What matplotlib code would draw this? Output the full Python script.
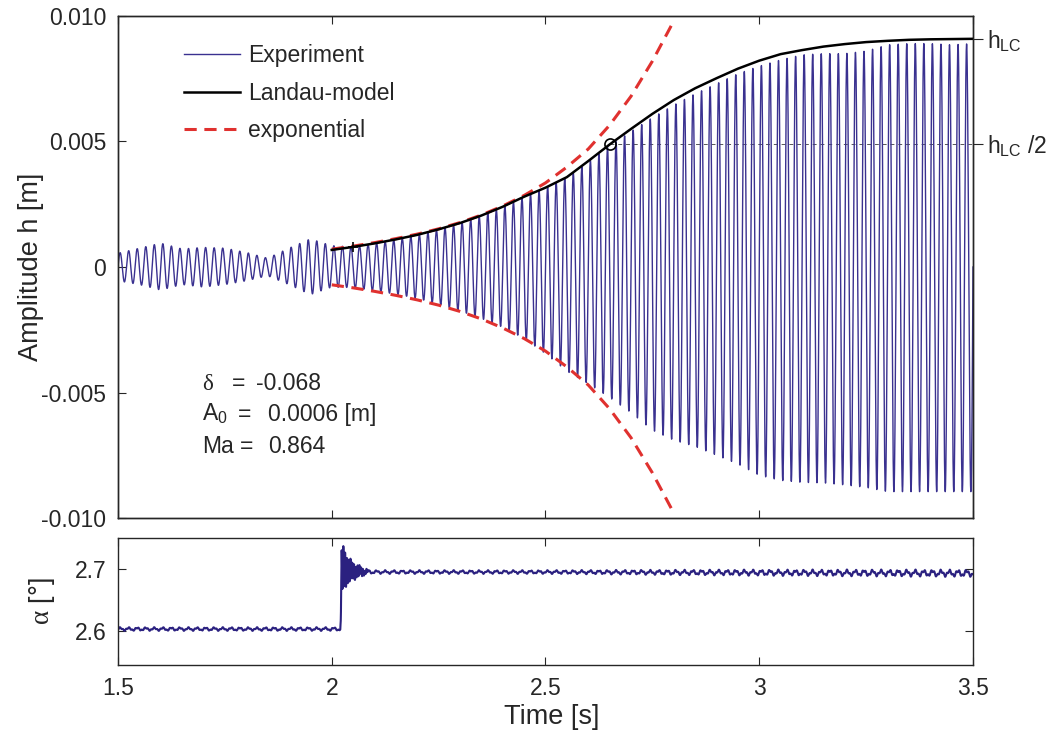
import numpy as np
import matplotlib as mpl
mpl.use("Agg")
import matplotlib.pyplot as plt

# ---- palette / style (MATLAB-like) ----
INK, SIG, ALC, RED, REFL = "#262626", "#3a3190", "#2b2180", "#e0312f", "#555555"
FS, FL = 16.5, 19.5                # tick/text size, axis-label size

mpl.rcParams.update({
    "font.family": ["Liberation Sans", "DejaVu Sans"], "font.size": FS,
    "mathtext.fontset": "custom", "mathtext.rm": "Liberation Sans",
    "mathtext.it": "Liberation Serif",
    "axes.edgecolor": INK, "axes.linewidth": 1.0, "text.color": INK,
    "axes.labelcolor": INK, "xtick.color": INK, "ytick.color": INK,
    "axes.labelsize": FL,
    "xtick.direction": "in", "ytick.direction": "in",
    "xtick.major.size": 6, "ytick.major.size": 6,
    "xtick.major.width": 0.8, "ytick.major.width": 0.8,
})

# ---- data ----
F_OSC = 50.0                       # oscillation frequency of h [Hz]
ENV_T = [1.50, 1.55, 1.60, 1.65, 1.70, 1.75, 1.80, 1.85, 1.90, 1.95,
         2.00, 2.05, 2.10, 2.15, 2.20, 2.25, 2.30, 2.35, 2.40, 2.45,
         2.50, 2.55, 2.60, 2.65, 2.70, 2.75, 2.80, 2.85, 2.90, 2.95,
         3.00, 3.05, 3.10, 3.15, 3.20, 3.25, 3.30, 3.35, 3.40, 3.45, 3.50]
ENV_UP = [0.00055, 0.00075, 0.00095, 0.00072, 0.00078, 0.00075, 0.00058, 0.00035, 0.00075, 0.00112,
          0.00085, 0.00080, 0.00093, 0.00108, 0.00126, 0.00148, 0.00173, 0.00203, 0.00238, 0.00278,
          0.00314, 0.00356, 0.00418, 0.00482, 0.00540, 0.00595, 0.00645, 0.00690, 0.00730, 0.00770,
          0.00800, 0.00825, 0.00845, 0.00850, 0.00850, 0.00860, 0.00885, 0.00890, 0.00890, 0.00885, 0.00890]
ENV_LO = [-0.00055, -0.00070, -0.00092, -0.00070, -0.00080, -0.00070, -0.00055, -0.00035, -0.00070, -0.00110,
          -0.00080, -0.00082, -0.00095, -0.00108, -0.00125, -0.00148, -0.00175, -0.00205, -0.00240, -0.00285,
          -0.00345, -0.00415, -0.00465, -0.00520, -0.00580, -0.00650, -0.00690, -0.00715, -0.00750, -0.00785,
          -0.00830, -0.00850, -0.00858, -0.00860, -0.00868, -0.00878, -0.00895, -0.00895, -0.00895, -0.00895, -0.00895]

LANDAU_T = [2.00, 2.05, 2.10, 2.15, 2.20, 2.25, 2.30, 2.35, 2.40, 2.45, 2.50,
            2.55, 2.60, 2.65, 2.70, 2.75, 2.80, 2.85, 2.90, 2.95, 3.00,
            3.05, 3.10, 3.15, 3.20, 3.25, 3.30, 3.35, 3.40, 3.45, 3.50]
LANDAU_H = [0.00068, 0.00080, 0.00094, 0.00110, 0.00128, 0.00150, 0.00175, 0.00205, 0.00240, 0.00280, 0.00316,
            0.00358, 0.00422, 0.00488, 0.00550, 0.00610, 0.00665, 0.00712, 0.00752, 0.00790, 0.00822,
            0.00848, 0.00864, 0.00878, 0.00888, 0.00896, 0.00901, 0.00905, 0.00907, 0.00908, 0.00909]

EXP_T = [2.00, 2.05, 2.10, 2.15, 2.20, 2.25, 2.30, 2.35, 2.40,
         2.45, 2.50, 2.55, 2.60, 2.65, 2.70, 2.75, 2.80]
EXP_H = [0.00071, 0.00083, 0.00097, 0.00113, 0.00131, 0.00152, 0.00177, 0.00207, 0.00243,
         0.00285, 0.00335, 0.00398, 0.00470, 0.00565, 0.00680, 0.00820, 0.00980]

MARK_T = [2.05, 2.65]              # "+" start point and "o" half-amplitude point
MARK_H = [0.00080, 0.00488]
H_LC, H_HALF = 0.0091, 0.0049      # right-hand tick positions

ALPHA_T = [1.50, 2.020, 2.024, 2.030, 2.040, 2.060, 2.100, 2.500, 3.000, 3.500]
ALPHA_LEVEL = [2.603, 2.603, 2.705, 2.700, 2.697, 2.696, 2.695, 2.695, 2.694, 2.693]
ALPHA_RIPPLE = [0.003, 0.003, 0.004, 0.004, 0.004, 0.004, 0.003, 0.003, 0.005, 0.006]
ALPHA_FREQS = [50.0, 137.0]
ALPHA_WEIGHTS = [0.65, 0.35]
TRANS_T = [2.020, 2.023, 2.026, 2.035, 2.050, 2.070, 2.090]   # start-up transient
TRANS_AMP = [0.0, 0.045, 0.035, 0.022, 0.012, 0.006, 0.0]
TRANS_FREQ = 240.0

TEXT_ROWS = [(r"$\delta$", "=", "-0.068"), (r"A$_0$", "=", "0.0006 [m]"), ("Ma", "=", "0.864")]

# ---- build traces ----
t = np.linspace(1.5, 3.5, 40001)
s = np.sin(2 * np.pi * F_OSC * (t - 1.5))
up = np.interp(t, ENV_T, ENV_UP); lo = np.interp(t, ENV_T, ENV_LO)
h = np.where(s >= 0, up * s, lo * (-s))

car = sum(w * np.sin(2 * np.pi * f * t + k) for k, (f, w) in enumerate(zip(ALPHA_FREQS, ALPHA_WEIGHTS)))
trans = np.interp(t, TRANS_T, TRANS_AMP, left=0, right=0) * np.cos(2 * np.pi * TRANS_FREQ * (t - TRANS_T[1]))
alpha = np.interp(t, ALPHA_T, ALPHA_LEVEL) + np.interp(t, ALPHA_T, ALPHA_RIPPLE) * car + trans

# ---- figure ----
fig = plt.figure(figsize=(10.59, 7.33), dpi=100)
ax = fig.add_axes([0.1114, 0.2933, 0.8074, 0.6849])
ax2 = fig.add_axes([0.1114, 0.0928, 0.8074, 0.1733])

ax.plot(t, h, color=SIG, lw=1.0, label="Experiment", zorder=2)
ax.plot(LANDAU_T, LANDAU_H, color="black", lw=1.8, label="Landau-model", zorder=4)
ax.plot(EXP_T, EXP_H, color=RED, lw=2.2, ls=(0, (4, 2.5)), label="exponential", zorder=3)
ax.plot(EXP_T, -np.array(EXP_H), color=RED, lw=2.2, ls=(0, (4, 2.5)), zorder=3)
ax.plot([MARK_T[1], 3.5], [H_HALF, H_HALF], color=REFL, lw=0.7, ls=(0, (4, 4)), zorder=1)
ax.plot(MARK_T[0], MARK_H[0], "+", color="black", ms=7, mew=1.2, zorder=5)
ax.plot(MARK_T[1], MARK_H[1], "o", mfc="none", mec="black", ms=8, mew=1.2, zorder=5)

ax.set_xlim(1.5, 3.5); ax.set_ylim(-0.010, 0.010)
ax.set_xticks([1.5, 2, 2.5, 3, 3.5]); ax.set_xticklabels([])
ax.set_yticks([-0.010, -0.005, 0, 0.005, 0.010])
ax.set_yticklabels(["-0.010", "-0.005", "0", "0.005", "0.010"])
ax.tick_params(top=True, right=True, pad=8.5)
ax.set_ylabel("Amplitude h [m]")
ax.yaxis.set_label_coords(-0.087, 0.5)

leg = ax.legend(loc="upper left", bbox_to_anchor=(0.077, 0.944), frameon=False,
                borderpad=0, borderaxespad=0, handlelength=2.45, handletextpad=0.35,
                labelspacing=0.63, fontsize=FS)

axr = ax.twinx()
axr.set_ylim(ax.get_ylim())
axr.set_yticks([H_LC, H_HALF])
axr.set_yticklabels([r"h$_\mathrm{LC}$", r"h$_\mathrm{LC}$ /2"])
axr.tick_params(direction="out", length=7, pad=3)

# parameter block
rows_y = [383, 414, 446]
cols_x = [(202, 232, 256), (202, 238, 268), (202, 240, 268)]
for (lab, eq, val), py, (x0, x1, x2) in zip(TEXT_ROWS, rows_y, cols_x):
    yf = 1 - (py - 16) / 502
    for txt, px in ((lab, x0), (eq, x1), (val, x2)):
        ax.text((px - 118) / 855, yf, txt, transform=ax.transAxes, ha="left", va="center", fontsize=FS)

# alpha panel
ax2.plot(t, alpha, color=ALC, lw=1.5)
ax2.set_xlim(1.5, 3.5); ax2.set_ylim(2.545, 2.75)
ax2.set_xticks([1.5, 2, 2.5, 3, 3.5]); ax2.set_xticklabels(["1.5", "2", "2.5", "3", "3.5"])
ax2.set_yticks([2.6, 2.7]); ax2.set_yticklabels(["2.6", "2.7"])
ax2.tick_params(top=True, right=True, pad=8.5)
ax2.tick_params(axis="x", pad=9)
ax2.set_ylabel(r"$\alpha$ [°]")
ax2.yaxis.set_label_coords(-0.071, 0.5)
ax2.set_xlabel("Time [s]")
ax2.xaxis.set_label_coords(0.507, -0.31)

fig.savefig("out.png", dpi=100)
